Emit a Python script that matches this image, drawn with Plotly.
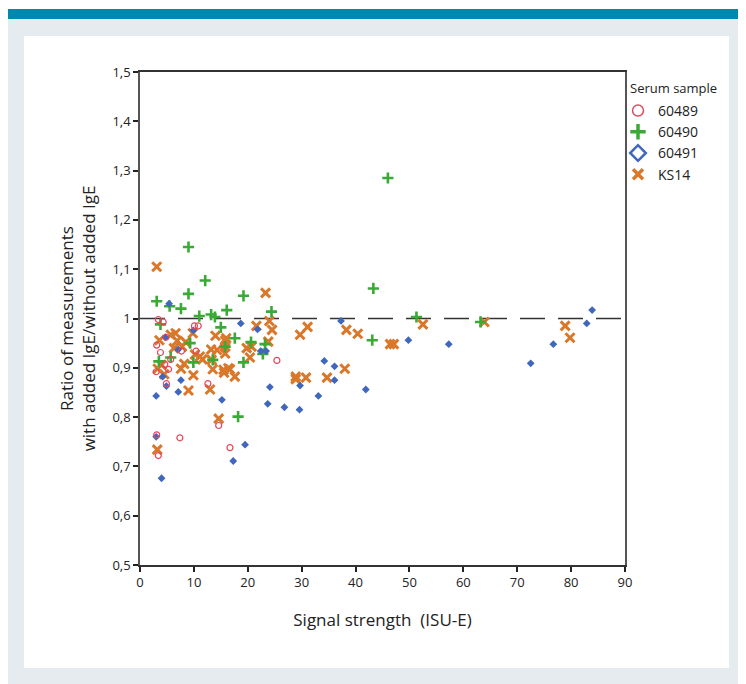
import plotly.graph_objects as go

# ---- data ----
x_60489 = [3.4, 4.3, 10.1, 10.8, 4.8, 3.1, 7.7, 10.4, 3.8, 5.7, 4.6, 3.0, 5.3, 25.4, 4.9, 12.6, 14.6, 3.1, 7.4, 16.7, 3.4]
y_60489 = [0.998, 0.993, 0.985, 0.985, 0.962, 0.946, 0.934, 0.934, 0.931, 0.917, 0.907, 0.892, 0.897, 0.915, 0.868, 0.868, 0.783, 0.764, 0.758, 0.738, 0.722]

x_60490 = [3.1, 5.5, 7.6, 9.0, 9.0, 12.1, 11.0, 13.2, 13.9, 16.1, 19.2, 24.4, 3.8, 15.0, 9.3, 17.6, 15.8, 20.6,
           23.2, 22.8, 13.5, 19.2, 9.9, 5.7, 3.5, 18.2, 43.3, 43.1, 46.0, 51.3, 63.2]
y_60490 = [1.035, 1.025, 1.02, 1.05, 1.145, 1.077, 1.005, 1.008, 1.003, 1.017, 1.046, 1.014, 0.988, 0.982, 0.95, 0.96, 0.943, 0.952,
           0.948, 0.928, 0.916, 0.911, 0.911, 0.921, 0.913, 0.801, 1.061, 0.956, 1.285, 1.003, 0.993]

x_60491 = [5.4, 18.7, 9.9, 21.8, 4.7, 7.1, 22.4, 23.4, 4.2, 7.6, 4.9, 3.0, 7.1, 15.2, 24.1, 23.7, 26.8, 29.6, 3.0, 19.5,
           17.3, 4.0, 37.3, 34.2, 36.1, 29.7, 36.1, 33.1, 41.9, 49.8, 57.3, 72.5, 76.7, 82.9, 83.9]
y_60491 = [1.03, 0.99, 0.976, 0.978, 0.962, 0.937, 0.934, 0.934, 0.882, 0.875, 0.863, 0.843, 0.851, 0.835, 0.861, 0.827, 0.82, 0.815, 0.76, 0.744,
           0.711, 0.676, 0.995, 0.914, 0.903, 0.864, 0.875, 0.843, 0.856, 0.956, 0.948, 0.909, 0.948, 0.99, 1.017]

x_ks14 = [3.1, 23.3, 24.0, 21.6, 24.5, 9.8, 6.6, 14.0, 16.0, 5.7, 3.6, 6.9, 8.5, 7.8, 6.3, 13.2, 14.3, 11.1, 10.2, 11.6,
          13.3, 4.0, 8.2, 7.6, 3.3, 13.5, 4.5, 15.8, 15.8, 15.8, 19.8, 20.7, 23.8, 20.4, 16.4, 15.5, 17.6, 16.7, 15.6, 9.9,
          9.0, 13.0, 14.6, 3.2, 28.9, 28.9, 30.8, 34.7, 29.7, 31.1, 38.3, 40.4, 38.0, 46.4, 47.1, 52.5, 63.9, 78.9, 79.8]
y_ks14 = [1.105, 1.052, 0.995, 0.985, 0.977, 0.97, 0.97, 0.965, 0.96, 0.967, 0.956, 0.955, 0.952, 0.943, 0.94, 0.937, 0.936, 0.923, 0.927, 0.917,
          0.916, 0.906, 0.908, 0.898, 0.898, 0.897, 0.887, 0.955, 0.943, 0.929, 0.94, 0.943, 0.953, 0.921, 0.899, 0.896, 0.882, 0.897, 0.89, 0.885,
          0.854, 0.856, 0.797, 0.734, 0.882, 0.877, 0.88, 0.88, 0.967, 0.983, 0.977, 0.969, 0.898, 0.948, 0.948, 0.988, 0.993, 0.985, 0.961]

series_names = ["60489", "60490", "60491", "KS14"]
legend_title = "Serum sample"
x_ticks = [0, 10, 20, 30, 40, 50, 60, 70, 80, 90]
y_ticks = [0.5, 0.6, 0.7, 0.8, 0.9, 1.0, 1.1, 1.2, 1.3, 1.4, 1.5]
y_ticktext = ["0,5", "0,6", "0,7", "0,8", "0,9", "1", "1,1", "1,2", "1,3", "1,4", "1,5"]
ref_line = 1.0

RED = "#e0485b"
GREEN = "#3aa935"
BLUE = "#3f67bd"
ORANGE = "#d9782a"
FONT = "Open Sans"

fig = go.Figure()

# reference dashed line at ratio 1
fig.add_trace(go.Scatter(x=[x_ticks[0], x_ticks[-1]], y=[ref_line, ref_line], mode="lines",
                         line=dict(color="#333333", width=1.5, dash="25px,13px"),
                         showlegend=False, hoverinfo="skip"))

# data traces
fig.add_trace(go.Scatter(x=x_ks14, y=y_ks14, mode="markers", showlegend=False,
                         marker=dict(symbol="x-thin-open", size=9, color=ORANGE, line=dict(color=ORANGE, width=3))))
fig.add_trace(go.Scatter(x=x_60490, y=y_60490, mode="markers", showlegend=False,
                         marker=dict(symbol="cross-thin-open", size=8, color=GREEN, line=dict(color=GREEN, width=2.6))))
fig.add_trace(go.Scatter(x=x_60491, y=y_60491, mode="markers", showlegend=False,
                         marker=dict(symbol="diamond", size=6, color=BLUE, line=dict(width=0))))
fig.add_trace(go.Scatter(x=x_60489, y=y_60489, mode="markers", showlegend=False,
                         marker=dict(symbol="circle-open", size=6, color=RED, line=dict(color=RED, width=1.2))))

# legend entries
leg_styles = [
    dict(symbol="circle-open", size=11, color=RED, line=dict(color=RED, width=1.5)),
    dict(symbol="cross-thin-open", size=11, color=GREEN, line=dict(color=GREEN, width=3.5)),
    dict(symbol="diamond-open", size=12, color=BLUE, line=dict(color=BLUE, width=2.5)),
    dict(symbol="x-thin-open", size=10, color=ORANGE, line=dict(color=ORANGE, width=3.5)),
]
for name, st in zip(series_names, leg_styles):
    fig.add_trace(go.Scatter(x=[None], y=[None], mode="markers", name=name, marker=st))

# plot-area pixel geometry: x 140..625, y 72..565
L, R, T, B = 140, 625, 72, 565
W, H = R - L, B - T
def px(x):
    return (x - L) / W
def py(y):
    return (B - y) / H

shapes = [
    dict(type="rect", xref="paper", yref="paper", x0=px(8), x1=px(738), y0=py(684), y1=py(9),
         fillcolor="#e6ebef", line=dict(width=0), layer="below"),
    dict(type="rect", xref="paper", yref="paper", x0=px(8), x1=px(738), y0=py(19), y1=py(9),
         fillcolor="#0089ae", line=dict(width=0), layer="below"),
    dict(type="rect", xref="paper", yref="paper", x0=px(24), x1=px(729), y0=py(668), y1=py(36),
         fillcolor="white", line=dict(width=0), layer="below"),
]

fig.update_layout(
    width=746, height=684,
    margin=dict(l=L, r=746 - R, t=T, b=684 - B),
    paper_bgcolor="white", plot_bgcolor="white",
    font=dict(family=FONT, color="#222222", size=13),
    shapes=shapes,
    showlegend=True,
    legend=dict(x=px(618), y=py(95), xanchor="left", yanchor="top",
                font=dict(size=14), tracegroupgap=0, itemwidth=30,
                bgcolor="rgba(0,0,0,0)"),
    annotations=[dict(text=legend_title, xref="paper", yref="paper", x=px(628), y=py(88),
                      xanchor="left", yanchor="middle", showarrow=False, font=dict(size=13))],
)
fig.update_xaxes(range=[0, 90], tickvals=x_ticks, ticks="outside", ticklen=5, tickwidth=1.5,
                 tickcolor="#222222", showline=True, linecolor="#333333", linewidth=1.5, mirror=True,
                 showgrid=False, zeroline=False, tickfont=dict(size=13),
                 title=dict(text="Signal strength  (ISU-E)", font=dict(size=17), standoff=24))
fig.update_yaxes(range=[0.5, 1.5], tickvals=y_ticks, ticktext=y_ticktext, ticks="outside", ticklen=5,
                 tickwidth=1.5, tickcolor="#222222", showline=True, linecolor="#555555", linewidth=1.5,
                 mirror=True, showgrid=False, zeroline=False, tickfont=dict(size=13),
                 title=dict(text="Ratio of measurements<br>with added IgE/without added IgE",
                            font=dict(size=17), standoff=12))

fig.write_html("out.html")
